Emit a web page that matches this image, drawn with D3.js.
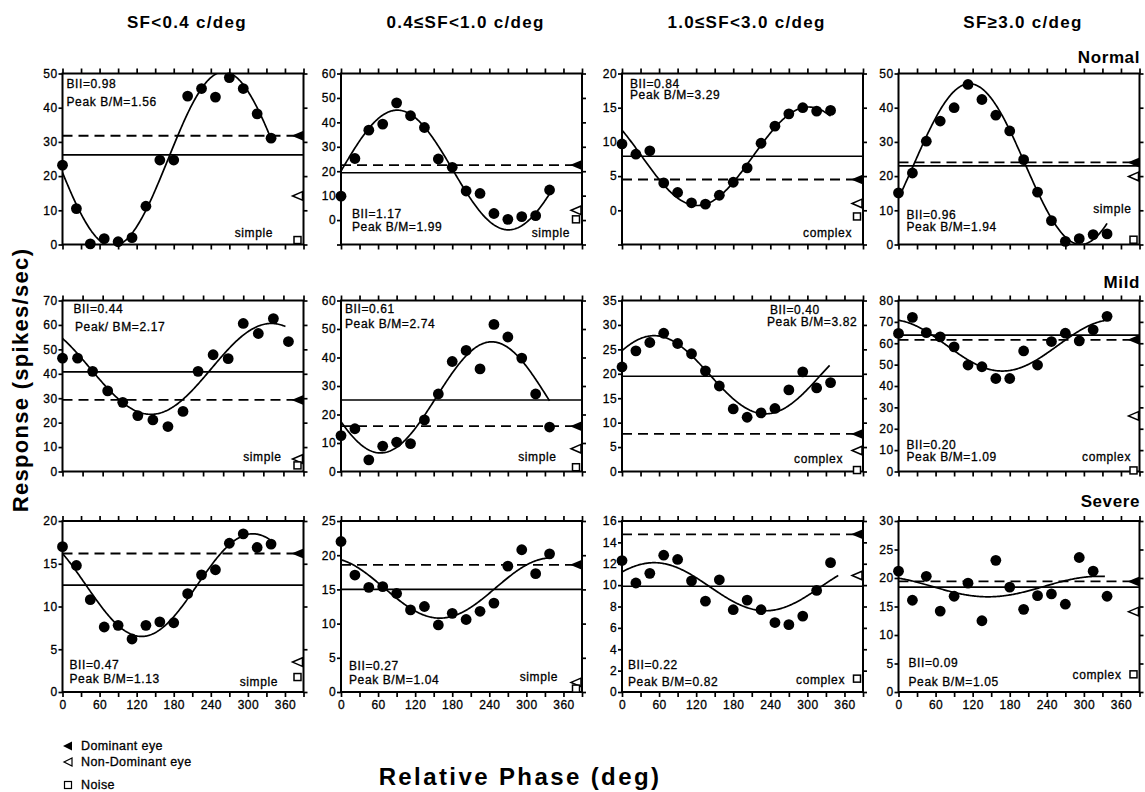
<!DOCTYPE html>
<html>
<head>
<meta charset="utf-8">
<script src="https://cdn.jsdelivr.net/npm/d3@7"></script>
<style>
  body { margin: 0; background: #fff; }
  svg text { font-family: "Liberation Sans", Arial, Helvetica, sans-serif; fill: #000; }
  svg text.small { stroke: #000; stroke-width: 0.3px; }
</style>
</head>
<body>
<svg id="chart" width="1145" height="792"></svg>
<script>
// ---- categories ----
const sfBands = ["SF<0.4 c/deg", "0.4\u2264SF<1.0 c/deg", "1.0\u2264SF<3.0 c/deg", "SF\u22653.0 c/deg"];
const groups = ["Normal", "Mild", "Severe"];
const phaseDeg = [0, 22.5, 45, 67.5, 90, 112.5, 135, 157.5, 180, 202.5, 225, 247.5, 270, 292.5, 315, 337.5];
const xTickLabels = [0, 60, 120, 180, 240, 300, 360];

// ---- binocular responses (spikes/sec), one array per panel ----
const respNormalSF1 = [23.2, 10.5, 0.2, 1.7, 0.8, 2.0, 11.2, 24.7, 24.7, 43.4, 45.6, 43.1, 48.8, 45.6, 38.2, 31.1];
const respNormalSF2 = [9.8, 25.2, 36.8, 39.3, 48.0, 42.7, 37.9, 25.0, 21.6, 11.9, 10.9, 2.7, 0.3, 1.4, 1.8, 12.3];
const respNormalSF3 = [9.7, 8.2, 8.7, 4.0, 2.6, 1.1, 0.9, 2.2, 4.1, 6.2, 9.8, 12.3, 14.1, 15.0, 14.5, 14.6];
const respNormalSF4 = [15.1, 20.9, 30.2, 36.1, 40.0, 46.8, 42.4, 37.8, 33.2, 24.8, 15.3, 7.0, 0.9, 1.7, 2.9, 3.1];
const respMildSF1 = [46.4, 46.4, 41.0, 33.0, 28.3, 22.9, 21.1, 18.4, 24.6, 41.0, 47.8, 46.2, 60.6, 56.5, 62.6, 53.2];
const respMildSF2 = [12.6, 15.0, 4.1, 8.9, 10.3, 9.8, 18.1, 27.2, 38.6, 42.5, 36.0, 51.6, 47.2, 39.8, 27.2, 15.6];
const respMildSF3 = [21.4, 24.7, 26.4, 28.3, 26.2, 24.1, 20.6, 17.5, 12.8, 11.1, 12.0, 12.9, 16.7, 20.4, 17.1, 18.2];
const respMildSF4 = [64.6, 72.1, 65.0, 63.0, 58.3, 49.8, 49.0, 43.5, 43.5, 56.4, 49.8, 60.8, 64.7, 61.1, 66.3, 72.6];
const respSevereSF1 = [17.0, 14.8, 10.8, 7.6, 7.8, 6.2, 7.8, 8.2, 8.1, 11.5, 13.7, 14.3, 17.4, 18.5, 16.9, 17.3];
const respSevereSF2 = [22.0, 17.1, 15.3, 15.4, 14.4, 12.0, 12.5, 9.8, 11.5, 10.6, 11.8, 13.0, 18.4, 20.8, 17.3, 20.2];
const respSevereSF3 = [12.3, 10.2, 11.1, 12.8, 12.4, 10.4, 8.5, 10.5, 7.7, 8.6, 7.7, 6.5, 6.3, 7.1, 9.5, 12.1];
const respSevereSF4 = [21.2, 16.1, 20.3, 14.2, 16.8, 19.1, 12.5, 23.1, 18.4, 14.5, 16.9, 17.2, 15.4, 23.6, 21.2, 16.8];

// ---- reference levels per panel ----
const binocMean = [26.2, 19.4, 7.9, 23.0, 40.8, 25.1, 19.5, 63.8, 12.5, 15.0, 9.9, 18.4];
const domEye    = [31.8, 22.5, 4.5, 24.0, 29.3, 15.9, 7.7, 61.6, 16.2, 18.6, 14.75, 19.4];
const nonDomEye = [14.2, 4.0, 1.0, 19.9, 5.1, 8.0, 4.3, 26.0, 3.5, 1.4, 10.9, 14.1];
const noiseLvl  = [1.3, 0.3, -0.9, 1.4, 2.5, 1.5, 0.3, 0.5, 1.75, 0.5, 1.25, 3.1];

// ---- sinusoidal fit: mean, amplitude, phase of peak (deg), last phase drawn ----
const fitMean = [25, 20.5, 7.9, 23.5, 42, 26, 19.8, 59, 12.5, 15.2, 9.85, 18.5];
const fitAmp  = [25.5, 24.5, 7.2, 23.5, 18.6, 19.5, 8, 12, 6, 4.4, 2.25, 1.8];
const fitPeak = [261, 91, 302, 115, 312, 244, 52, 348, 308, 340, 52, 325];
const fitEnd  = [337.5, 337.5, 337.5, 337.5, 333, 337.5, 336, 333, 337.5, 337.5, 350, 334];

// ---- annotation texts ----
const biiText  = ["BII=0.98", "BII=1.17", "BII=0.84", "BII=0.96", "BII=0.44", "BII=0.61", "BII=0.40", "BII=0.20", "BII=0.47", "BII=0.27", "BII=0.22", "BII=0.09"];
const peakText = ["Peak B/M=1.56", "Peak B/M=1.99", "Peak B/M=3.29", "Peak B/M=1.94", "Peak/ BM=2.17", "Peak B/M=2.74", "Peak B/M=3.82", "Peak B/M=1.09", "Peak B/M=1.13", "Peak B/M=1.04", "Peak B/M=0.82", "Peak B/M=1.05"];
const cellType = ["simple", "simple", "complex", "simple", "simple", "simple", "complex", "complex", "simple", "simple", "complex", "complex"];
const legendLabels = ["Dominant eye", "Non-Dominant eye", "Noise"];

// ---- axis ranges ----
const yMin  = [0, -10, -5, 0, 0, 0, 0, 0, 0, 0, 0, 0];
const yMax  = [50, 60, 20, 50, 70, 60, 35, 80, 20, 25, 16, 30];
const yStep = [10, 10, 5, 10, 10, 10, 5, 10, 5, 5, 2, 5];
const xMax  = [390, 390, 390, 390, 360, 390, 390, 390, 390, 390, 390, 390];

const responses = [respNormalSF1, respNormalSF2, respNormalSF3, respNormalSF4,
                   respMildSF1, respMildSF2, respMildSF3, respMildSF4,
                   respSevereSF1, respSevereSF2, respSevereSF3, respSevereSF4];

// ---- layout ----
const colLeft = [62.5, 341, 622, 898.5];
const rowTop = [73.5, 300.5, 521];
const panelW = 241, panelH = 171;
// text offsets inside each panel: [dx, dy]
const biiPos  = [[4,14],[11,144],[8,14],[8,145],[11,12],[4,12],[148,13.5],[8,148.5],[7,147.5],[8,149],[6,147.5],[10,146]];
const peakPos = [[4,32.5],[11,157.5],[8,25.8],[8,157.5],[12.5,30.5],[4,27],[145,25.5],[8,160.5],[7,162],[8,163],[6,165],[10,165]];
const typePos = [[210.5,163],[229,163.5],[230,163.5],[233,139],[219,160.5],[215.5,160.5],[221,162.5],[232.5,160.5],[215.5,165],[217,160],[223,162.5],[223,158]];

const svg = d3.select("#chart");
const fmt = d3.format("d");

function triPath(xr, yc, w, h) {
  return `M${xr},${yc - h}L${xr - w},${yc}L${xr},${yc + h}Z`;
}

responses.forEach((resp, i) => {
  const r = Math.floor(i / 4), c = i % 4;
  const g = svg.append("g").attr("transform", `translate(${colLeft[c]},${rowTop[r]})`);
  const x = d3.scaleLinear().domain([0, xMax[i]]).range([0, panelW]);
  const y = d3.scaleLinear().domain([yMin[i], yMax[i]]).range([panelH, 0]);
  const yt = d3.range(yMin[i], yMax[i] + 1e-9, yStep[i]);
  const xt = d3.range(0, xMax[i] + 1e-9, 30);

  const clipId = `clip${i}`;
  g.append("clipPath").attr("id", clipId).append("rect")
    .attr("x", 0).attr("y", 0).attr("width", panelW).attr("height", panelH);

  const axes = g.append("g").attr("class", "axes");
  axes.append("g").call(d3.axisLeft(y).tickValues(yt).tickSize(4).tickPadding(1)
    .tickFormat(v => v >= 0 ? fmt(v) : ""));
  axes.append("g").attr("transform", `translate(${panelW},0)`)
    .call(d3.axisRight(y).tickValues(yt).tickSize(4).tickFormat(""));
  axes.append("g").call(d3.axisTop(x).tickValues(xt).tickSize(5).tickFormat(""));
  axes.append("g").attr("transform", `translate(0,${panelH})`)
    .call(d3.axisBottom(x).tickValues(xt).tickSize(5).tickPadding(3)
      .tickFormat(v => (r === 2 && xTickLabels.includes(v)) ? fmt(v) : ""));
  axes.selectAll(".domain").remove();
  axes.selectAll(".tick line").attr("stroke", "#000").attr("stroke-width", 1.7);
  axes.selectAll(".tick text").attr("class", "small").attr("font-size", 12).attr("letter-spacing", 0.4)
    .attr("font-family", '"Liberation Sans", Arial, Helvetica, sans-serif').attr("fill", "#000");

  g.append("rect").attr("x", 0).attr("y", 0).attr("width", panelW).attr("height", panelH)
    .attr("fill", "none").attr("stroke", "#000").attr("stroke-width", 2);

  const inner = g.append("g").attr("clip-path", `url(#${clipId})`);

  // binocular mean (solid) and dominant-eye level (dashed)
  inner.append("line").attr("x1", 0).attr("x2", panelW)
    .attr("y1", y(binocMean[i])).attr("y2", y(binocMean[i]))
    .attr("stroke", "#000").attr("stroke-width", 1.6);
  inner.append("line").attr("x1", 0).attr("x2", panelW)
    .attr("y1", y(domEye[i])).attr("y2", y(domEye[i]))
    .attr("stroke", "#000").attr("stroke-width", 1.8).attr("stroke-dasharray", "10,6");

  // sinusoidal fit
  const ph = d3.range(0, fitEnd[i], 1.5).concat([fitEnd[i]]);
  const fit = ph.map(p => [p, fitMean[i] + fitAmp[i] * Math.cos((p - fitPeak[i]) * Math.PI / 180)]);
  inner.append("path").datum(fit)
    .attr("d", d3.line().x(d => x(d[0])).y(d => y(d[1])))
    .attr("fill", "none").attr("stroke", "#000").attr("stroke-width", 1.7);

  // data points
  g.append("g").selectAll("circle").data(resp).join("circle")
    .attr("cx", (d, k) => x(phaseDeg[k])).attr("cy", d => y(d))
    .attr("r", 5.4).attr("fill", "#000");

  // eye / noise markers on the right edge
  g.append("path").attr("d", triPath(panelW, y(domEye[i]), 12, 5)).attr("fill", "#000");
  g.append("path").attr("d", triPath(panelW - 1, y(nonDomEye[i]), 10, 4.3))
    .attr("fill", "#fff").attr("stroke", "#000").attr("stroke-width", 1.5);
  g.append("rect").attr("x", panelW - 9.5).attr("y", y(noiseLvl[i]) - 3.5)
    .attr("width", 7).attr("height", 7)
    .attr("fill", "#fff").attr("stroke", "#000").attr("stroke-width", 1.5);

  // annotations
  g.append("text").attr("class", "small").attr("x", biiPos[i][0]).attr("y", biiPos[i][1])
    .attr("font-size", 12).attr("letter-spacing", 0.6).text(biiText[i]);
  g.append("text").attr("class", "small").attr("x", peakPos[i][0]).attr("y", peakPos[i][1])
    .attr("font-size", 12).attr("letter-spacing", 0.6).text(peakText[i]);
  g.append("text").attr("class", "small").attr("x", typePos[i][0]).attr("y", typePos[i][1])
    .attr("text-anchor", "end").attr("font-size", 12).attr("letter-spacing", 0.6).text(cellType[i]);
});

// column headers
sfBands.forEach((t, c) => {
  svg.append("text").attr("x", colLeft[c] + panelW / 2 + 4).attr("y", 28)
    .attr("text-anchor", "middle").attr("font-size", 17).attr("font-weight", "bold")
    .attr("letter-spacing", 1.3).text(t);
});

// row labels
const rowLabelY = [63, 288, 507];
groups.forEach((t, r) => {
  svg.append("text").attr("x", 1140).attr("y", rowLabelY[r])
    .attr("text-anchor", "end").attr("font-size", 17).attr("font-weight", "bold")
    .attr("letter-spacing", 0.6).text(t);
});

// axis titles
svg.append("text").attr("transform", "translate(28,380) rotate(-90)")
  .attr("text-anchor", "middle").attr("font-size", 22).attr("font-weight", "bold")
  .attr("letter-spacing", 1.3).text("Response (spikes/sec)");
svg.append("text").attr("x", 520).attr("y", 785)
  .attr("text-anchor", "middle").attr("font-size", 24).attr("font-weight", "bold")
  .attr("letter-spacing", 2.4).text("Relative Phase (deg)");

// legend
const leg = svg.append("g");
const legY = [746, 762, 785];
leg.append("path").attr("d", triPath(72, legY[0], 9, 4.5)).attr("fill", "#000");
leg.append("path").attr("d", triPath(72, legY[1], 8, 4))
  .attr("fill", "#fff").attr("stroke", "#000").attr("stroke-width", 1.2);
leg.append("rect").attr("x", 64.5).attr("y", legY[2] - 3.5).attr("width", 7).attr("height", 7)
  .attr("fill", "#fff").attr("stroke", "#000").attr("stroke-width", 1.2);
legendLabels.forEach((t, k) => {
  leg.append("text").attr("class", "small").attr("x", 81).attr("y", legY[k] + 4)
    .attr("font-size", 12.5).attr("letter-spacing", 0.4).text(t);
});
</script>
</body>
</html>
